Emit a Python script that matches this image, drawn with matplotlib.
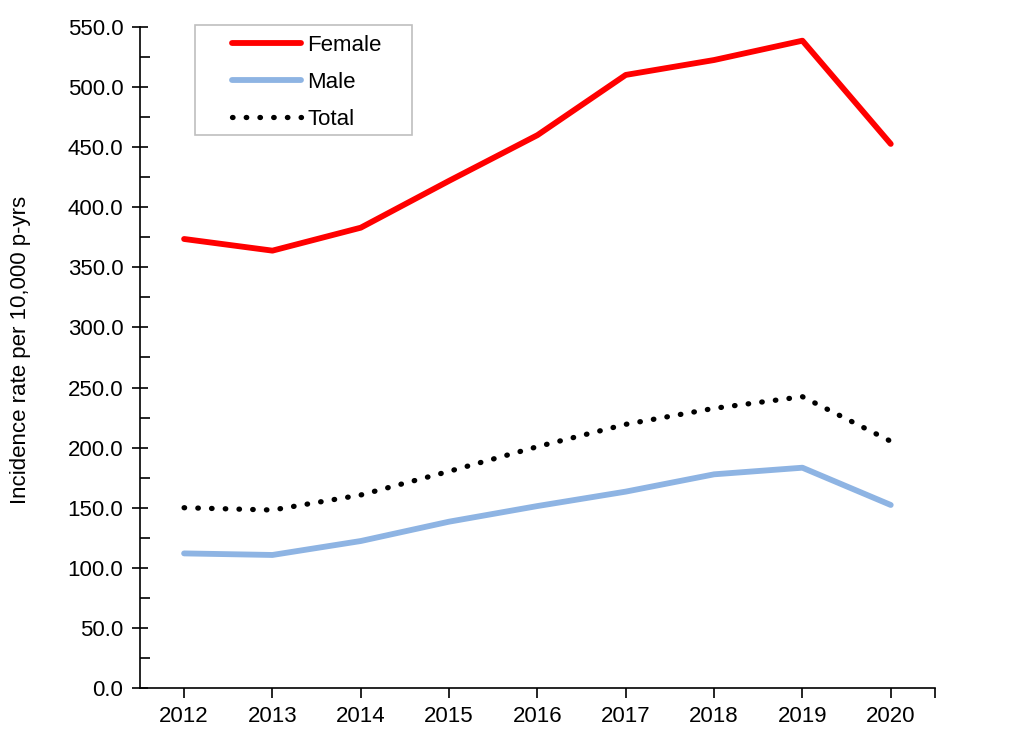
import matplotlib.pyplot as plt
from matplotlib.ticker import MultipleLocator, FixedLocator
from matplotlib.patches import Rectangle

plt.rcParams['font.family'] = ['Liberation Sans', 'DejaVu Sans']

years = ['2012', '2013', '2014', '2015', '2016', '2017', '2018', '2019', '2020']
female = [373.6, 363.9, 383.0, 422.0, 460.0, 510.1, 522.5, 538.6, 452.7]
male = [112.0, 110.7, 122.3, 138.4, 151.4, 163.4, 177.8, 183.3, 152.3]
total = [150.0, 148.1, 160.6, 180.3, 200.8, 219.4, 232.7, 242.4, 205.3]

fig = plt.figure(figsize=(10.14, 7.43), dpi=100)
ax = fig.add_axes([0.138, 0.074, 0.784, 0.8897])

x = list(range(len(years)))
ax.plot(x, female, color='#FF0000', lw=4.2, label='Female', solid_capstyle='round')
ax.plot(x, male, color='#8EB4E3', lw=4.2, label='Male', solid_capstyle='round')
ax.plot(x, total, color='black', lw=3.8, linestyle=(0, (0.1, 2.5)),
        dash_capstyle='round', label='Total')

ax.set_xlim(-0.5, 8.5)
ax.set_ylim(0, 550)
ax.set_xticks(x)
ax.set_xticklabels(years)
ax.xaxis.set_minor_locator(FixedLocator([8.5]))
ax.yaxis.set_major_locator(MultipleLocator(50))
ax.yaxis.set_minor_locator(MultipleLocator(25))
ax.yaxis.set_major_formatter(lambda v, p: f'{v:.1f}')

for s in ['top', 'right']:
    ax.spines[s].set_visible(False)
ax.spines['left'].set_linewidth(1.2)
ax.spines['bottom'].set_linewidth(1.2)

ax.tick_params(axis='y', which='major', direction='inout', length=12, width=1.2,
               labelsize=16, pad=6)
ax.tick_params(axis='y', which='minor', direction='in', length=7, width=1.2)
ax.tick_params(axis='x', which='both', direction='out', length=7, width=1.2,
               labelsize=16, pad=6)

ax.set_ylabel('Incidence rate per 10,000 p-yrs', fontsize=16)
ax.yaxis.set_label_coords(-0.137, 0.511)

# legend frame drawn separately so the padding can match
box = Rectangle((0.069, 0.8366), 0.273, 0.1664, transform=ax.transAxes,
                facecolor='white', edgecolor='#BFBFBF', lw=1.2,
                clip_on=False, zorder=4)
ax.add_patch(box)
leg = ax.legend(loc='upper left', bbox_to_anchor=(0.1157, 0.9879), fontsize=16,
                frameon=False, handlelength=3.1, handletextpad=0.3,
                labelspacing=0.72, borderpad=0, borderaxespad=0)
leg.set_zorder(5)

fig.savefig('out.png', dpi=100)
